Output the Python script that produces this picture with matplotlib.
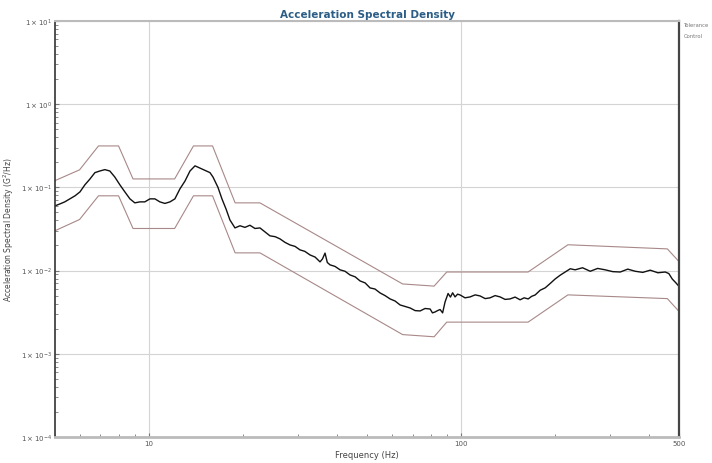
import matplotlib
matplotlib.use("Agg")
import matplotlib.pyplot as plt
from matplotlib.ticker import FixedLocator, LogLocator, NullFormatter

# Reference profile breakpoints (Hz, G^2/Hz)
profile_freq = [5.0, 6.0, 6.9, 8.0, 8.9, 12.1, 13.9, 16.0, 18.9, 22.7,
                65.0, 82.0, 90.0, 164.0, 220.0, 458.0, 500.0]
upper_asd = [0.120, 0.162, 0.314, 0.314, 0.126, 0.126, 0.314, 0.314, 0.065, 0.065,
             0.0069, 0.0065, 0.0096, 0.0096, 0.0204, 0.0182, 0.0127]
lower_asd = [0.030, 0.041, 0.079, 0.079, 0.032, 0.032, 0.079, 0.079, 0.0163, 0.0163,
             0.0017, 0.0016, 0.0024, 0.0024, 0.0051, 0.0046, 0.0032]

# Control trace
control_freq = [5.0, 5.19, 5.38, 5.59, 5.80, 6.02, 6.24, 6.47, 6.72, 6.97,
                7.23, 7.50, 7.78, 8.08, 8.38, 8.70, 9.02, 9.36, 9.71, 10.08,
                10.46, 10.85, 11.26, 11.69, 12.12, 12.58, 13.06, 13.55, 14.06, 14.58,
                15.13, 15.70, 16.05, 16.65, 17.15, 17.67, 18.19, 18.88, 19.59, 20.32,
                21.08, 21.88, 22.70, 23.55, 24.44, 25.4, 26.31, 27.3, 28.33, 29.4,
                30.50, 31.6, 32.83, 34.1, 35.35, 36.0, 36.68, 37.3, 38.06, 39.5,
                40.97, 42.5, 44.11, 45.8, 47.49, 49.3, 51.13, 53.0, 55.05, 57.1,
                59.26, 61.5, 63.80, 66.2, 68.69, 71.3, 73.95, 76.7, 79.62, 81.0,
                82.61, 84.1, 85.70, 87.3, 88.91, 90.9, 92.5, 94.0, 95.7, 97.5,
                99.3, 103.0, 106.9, 111.0, 115.1, 119.5, 123.9, 128.6, 133.4, 138.4,
                143.6, 149.0, 154.6, 159.3, 164.1, 168.4, 172.8, 179.3, 186.1, 193.1,
                200.3, 207.9, 215.7, 223.8, 232.1, 245.0, 259.3, 273.9, 289.6, 306.0,
                323.6, 342.0, 361.4, 382.0, 403.7, 427.0, 450.9, 463.0, 475.0, 488.0,
                500.0]
control_asd = [0.0597, 0.0631, 0.0668, 0.0726, 0.0789, 0.0881, 0.107, 0.125, 0.150, 0.157,
               0.163, 0.157, 0.133, 0.107, 0.0881, 0.0726, 0.0650, 0.0668, 0.0668, 0.0726,
               0.0726, 0.0668, 0.0640, 0.0668, 0.0726, 0.0957, 0.119, 0.157, 0.181, 0.170,
               0.160, 0.150, 0.133, 0.100, 0.0726, 0.0550, 0.0405, 0.0325, 0.0345, 0.0330,
               0.0350, 0.0320, 0.0325, 0.0291, 0.0261, 0.0255, 0.0240, 0.0218, 0.0203, 0.0195,
               0.0177, 0.0170, 0.0154, 0.0145, 0.0127, 0.0138, 0.0162, 0.0125, 0.0117, 0.0112,
               0.0102, 0.0098, 0.00885, 0.0084, 0.00750, 0.0071, 0.00618, 0.0060, 0.00538, 0.0050,
               0.00456, 0.0043, 0.00386, 0.0037, 0.00355, 0.0033, 0.00327, 0.0035, 0.00345, 0.0031,
               0.00318, 0.0033, 0.00340, 0.0031, 0.00420, 0.00530, 0.0048, 0.0054, 0.00482, 0.0052,
               0.00509, 0.0047, 0.00482, 0.0051, 0.00495, 0.0046, 0.00470, 0.0050, 0.00482, 0.0045,
               0.00456, 0.0048, 0.00445, 0.0047, 0.00456, 0.0049, 0.00509, 0.0058, 0.00620, 0.0070,
               0.00793, 0.0088, 0.0096, 0.0105, 0.0102, 0.0108, 0.0098, 0.0106, 0.0102, 0.0097,
               0.0096, 0.0104, 0.0098, 0.0095, 0.0101, 0.0094, 0.0096, 0.0092, 0.0079, 0.0071,
               0.0064]

y_ticks = [1e-4, 1e-3, 1e-2, 1e-1, 1e0, 1e1]
y_tick_labels = [r"$1\times10^{-4}$", r"$1\times10^{-3}$", r"$1\times10^{-2}$",
                 r"$1\times10^{-1}$", r"$1\times10^{0}$", r"$1\times10^{1}$"]
x_ticks = [10, 100, 500]
x_tick_labels = ["10", "100", "500"]

fig = plt.figure(figsize=(7.12, 4.64), dpi=100)
ax = fig.add_axes([0.077, 0.056, 0.877, 0.897])

ax.set_xscale("log")
ax.set_yscale("log")
ax.set_xlim(5, 500)
ax.set_ylim(1e-4, 1e1)

ax.grid(True, which="major", color="#d4d4d4", linewidth=0.8)
ax.set_axisbelow(True)

# tolerance band
ax.plot(profile_freq, upper_asd, color="#a88888", linewidth=0.8)
ax.plot(profile_freq, lower_asd, color="#a88888", linewidth=0.8)
# control
ax.plot(control_freq, control_asd, color="#111111", linewidth=1.0)

ax.xaxis.set_major_locator(FixedLocator(x_ticks))
ax.set_xticklabels(x_tick_labels)
ax.xaxis.set_minor_locator(LogLocator(base=10, subs=range(2, 10)))
ax.xaxis.set_minor_formatter(NullFormatter())
ax.set_yticks(y_ticks)
ax.set_yticklabels(y_tick_labels)
ax.yaxis.set_minor_locator(LogLocator(base=10, subs=range(2, 10)))
ax.yaxis.set_minor_formatter(NullFormatter())

ax.tick_params(which="both", direction="in", labelsize=5, labelcolor="#555555",
               color="#777777", pad=2)
ax.tick_params(which="major", length=3)
ax.tick_params(which="minor", length=2)

ax.spines["left"].set_color("#333333")
ax.spines["left"].set_linewidth(1.2)
ax.spines["right"].set_color("#444444")
ax.spines["right"].set_linewidth(1.6)
ax.spines["bottom"].set_color("#bbbbbb")
ax.spines["bottom"].set_linewidth(2.0)
ax.spines["top"].set_color("#bbbbbb")
ax.spines["top"].set_linewidth(1.5)

ax.set_title("Acceleration Spectral Density", fontsize=7.5, fontweight="bold",
             color="#2b5d86", pad=3)
ax.set_xlabel("Frequency (Hz)", fontsize=6, color="#444444", labelpad=3)
ax.set_ylabel("Acceleration Spectral Density (G$^2$/Hz)", fontsize=5.5,
              color="#444444", labelpad=4)

fig.text(0.960, 0.942, "Tolerance", fontsize=3.8, color="#777777")
fig.text(0.960, 0.918, "Control", fontsize=3.8, color="#777777")

fig.savefig("out.png", dpi=100)
